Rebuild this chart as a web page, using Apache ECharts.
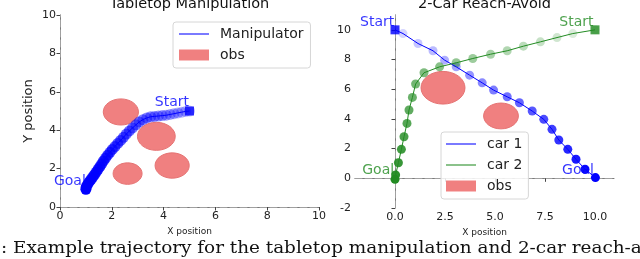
<!DOCTYPE html>
<html><head><meta charset="utf-8">
<script src="https://cdn.jsdelivr.net/npm/echarts@6/dist/echarts.min.js"></script>
<style>html,body{margin:0;padding:0;background:#fff}#c{width:640px;height:259px}</style>
</head><body><div id="c"></div>
<script>
// ---------- data ----------
const manipX = [5.0,4.85,4.7,4.55,4.4,4.25,4.1,3.95,3.8,3.65,3.5,3.35,3.2,3.06,2.93,2.8,2.68,2.56,2.45,2.34,2.23,2.12,2.02,1.93,1.84,1.76,1.68,1.61,1.54,1.47,1.4,1.33,1.26,1.19,1.12,1.06,1.01,1.0];
const manipY = [5.0,4.98,4.94,4.9,4.86,4.82,4.78,4.76,4.74,4.72,4.7,4.64,4.55,4.43,4.28,4.12,3.96,3.8,3.63,3.47,3.31,3.15,3.0,2.85,2.7,2.55,2.4,2.25,2.1,1.96,1.82,1.68,1.55,1.42,1.29,1.16,1.04,0.92];
const manipStart = [5, 5];
const tableObsX = [2.35, 3.72, 4.33, 2.61];
const tableObsY = [4.95, 3.68, 2.16, 1.74];
const tableObsR = [0.68, 0.73, 0.66, 0.56];

const car1X = [0,0.4,1.15,1.9,2.48,3.06,3.73,4.36,4.93,5.61,6.22,6.86,7.44,7.85,8.19,8.64,9.05,9.5,10.02];
const car1Y = [10,9.75,9.08,8.59,7.96,7.51,6.95,6.43,5.94,5.49,5.09,4.53,3.97,3.30,2.58,1.95,1.28,0.61,0.05];
const car2X = [10,8.89,8.1,7.27,6.42,5.61,4.78,3.89,3.06,2.23,1.45,1.03,0.87,0.7,0.6,0.45,0.32,0.17,0.03,0.0];
const car2Y = [10,9.75,9.48,9.19,8.9,8.59,8.36,8.07,7.78,7.51,7.11,6.35,5.45,4.6,3.7,2.8,1.95,1.05,0.22,-0.07];
const car1Start = [0, 10];
const car2Start = [10, 10];
const carObsX = [2.4, 5.3];
const carObsY = [6.1, 4.2];
const carObsR = [1.1, 0.87];

const leftTicks = [0, 2, 4, 6, 8, 10];
const rightXTicks = [0, 2.5, 5, 7.5, 10];
const rightYTicks = [-2, 0, 2, 4, 6, 8, 10];

const leftNotes = [{name:'Start', value:[4.32, 5.45]}, {name:'Goal', value:[0.38, 1.34]}];
const car1Notes = [{name:'Start', value:[-0.89, 10.49]}, {name:'Goal', value:[9.15, 0.51]}];
const car2Notes = [{name:'Start', value:[9.07, 10.49]}, {name:'Goal', value:[-0.84, 0.51]}];

const titles = ['Tabletop Manipulation', '2-Car Reach-Avoid'];
const caption = ': Example trajectory for the tabletop manipulation and 2-car reach-avoid';

// ---------- styles ----------
const BLUE = '#0000ff', GREEN = '#228b22', OBS = '#f08080', OBS_EDGE = '#e57373';
const FONT = 'DejaVu Sans';
const zip = (a, b) => a.map((v, i) => [v, b[i]]);
const fade = (arr, a0) => arr.map((p, i) => ({value: p, itemStyle: {opacity: a0 + (1 - a0) * i / (arr.length - 1)}}));

function obsSeries(xi, yi, xs, ys, rs) {
  return {
    type: 'custom', name: 'obs', xAxisIndex: xi, yAxisIndex: yi, z: 1,
    itemStyle: {color: OBS},
    dimensions: ['x', 'y', 'r'], encode: {x: 0, y: 1},
    data: xs.map((x, i) => [x, ys[i], rs[i]]),
    renderItem(params, api) {
      const c = api.coord([api.value(0), api.value(1)]);
      const s = api.size([api.value(2), api.value(2)]);
      return {type: 'ellipse', shape: {cx: c[0], cy: c[1], rx: s[0], ry: s[1]},
        style: {fill: OBS, stroke: OBS_EDGE, lineWidth: 1}};
    }
  };
}
function noteSeries(xi, yi, data, color) {
  return {type: 'scatter', xAxisIndex: xi, yAxisIndex: yi, symbolSize: 1, z: 6,
    itemStyle: {color: 'rgba(0,0,0,0)'}, data,
    label: {show: true, position: 'inside', formatter: '{b}', color, fontSize: 14, fontFamily: FONT}};
}
const tickLabel = {color: '#222', fontSize: 11, fontFamily: FONT, margin: 4};
const solidLine = {show: true, lineStyle: {color: '#7a7a7a', width: 1}};
const dashLine = {show: true, lineStyle: {color: '#a0a0a0', width: 1, type: [7, 3]}};
const tick = {show: true, length: 3.5, lineStyle: {color: '#444'}};

function mainX(gi, min, max, ticks, fmt) {
  return {type: 'value', gridIndex: gi, min, max, position: 'bottom',
    axisLine: solidLine, splitLine: {show: false},
    axisTick: Object.assign({customValues: ticks}, tick),
    axisLabel: Object.assign({customValues: ticks, formatter: fmt}, tickLabel),
    name: 'X position', nameLocation: 'middle', nameGap: 20,
    nameTextStyle: {fontSize: 9, color: '#222', fontFamily: FONT}};
}
function mainY(gi, min, max, ticks, name) {
  return {type: 'value', gridIndex: gi, min, max, position: 'left',
    axisLine: solidLine, splitLine: {show: false},
    axisTick: Object.assign({customValues: ticks}, tick),
    axisLabel: Object.assign({customValues: ticks}, tickLabel),
    name, nameLocation: 'middle', nameGap: 25, nameRotate: 90,
    nameTextStyle: {fontSize: 13, color: '#222', fontFamily: FONT}};
}
function borderX(gi, min, max) {
  return {type: 'value', gridIndex: gi, min, max, position: 'top', axisLine: dashLine,
    axisTick: {show: false}, axisLabel: {show: false}, splitLine: {show: false}};
}
function borderY(gi, min, max) {
  return {type: 'value', gridIndex: gi, min, max, position: 'right', axisLine: dashLine,
    axisTick: {show: false}, axisLabel: {show: false}, splitLine: {show: false}};
}
const legendBase = {orient: 'vertical', selectedMode: false, borderColor: '#d6d6d6', borderWidth: 1,
  borderRadius: 3, backgroundColor: 'rgba(255,255,255,0.85)', itemWidth: 30, itemHeight: 11, itemGap: 7,
  textStyle: {fontSize: 14, color: '#222', fontFamily: FONT, padding: [0, 0, 0, 6]}};
const lineIcon = 'path://M0,0H40V1.4H0Z';

const chart = echarts.init(document.getElementById('c'), null, {renderer: 'canvas'});
chart.setOption({
  animation: false,
  grid: [
    {left: 60, top: 15, width: 259, height: 192},
    {left: 355, top: 15, width: 259, height: 193}
  ],
  xAxis: [
    mainX(0, 0, 10, leftTicks, v => String(v)),
    mainX(1, -2, 10.95, rightXTicks, v => v.toFixed(1)),
    borderX(0, 0, 10), borderX(1, -2, 10.95)
  ],
  yAxis: [
    mainY(0, 0, 10, leftTicks, 'Y position'),
    mainY(1, -2, 11, rightYTicks, ''),
    borderY(0, 0, 10), borderY(1, -2, 11)
  ],
  legend: [
    Object.assign({}, legendBase, {left: 173, top: 22, padding: [5, 7, 6, 6],
      data: [{name: 'Manipulator', icon: lineIcon}, {name: 'obs', icon: 'rect'}]}),
    Object.assign({}, legendBase, {left: 441, top: 132, padding: [5, 6, 6, 5],
      data: [{name: 'car 1', icon: lineIcon}, {name: 'car 2', icon: lineIcon}, {name: 'obs', icon: 'rect'}]})
  ],
  graphic: [
    {type: 'text', x: 189.5, y: 4.5, style: {text: titles[0], fontSize: 14.5, fontFamily: FONT, fill: '#111', align: 'center', verticalAlign: 'middle'}},
    {type: 'text', x: 484.5, y: 4.5, style: {text: titles[1], fontSize: 14.5, fontFamily: FONT, fill: '#111', align: 'center', verticalAlign: 'middle'}},
    {type: 'text', x: 1, y: 249, scaleX: 1.15, style: {text: caption, fontSize: 16, fontFamily: 'DejaVu Serif', fill: '#111', align: 'left', verticalAlign: 'middle'}}
  ],
  series: [
    obsSeries(0, 0, tableObsX, tableObsY, tableObsR),
    {type: 'scatter', name: 'manip-pts', xAxisIndex: 0, yAxisIndex: 0, symbolSize: 11, z: 3,
      itemStyle: {color: BLUE}, data: fade(zip(manipX, manipY), 0.25)},
    {type: 'line', name: 'Manipulator', xAxisIndex: 0, yAxisIndex: 0, color: BLUE, symbol: 'none', z: 4,
      lineStyle: {color: BLUE, width: 1}, data: zip(manipX, manipY)},
    {type: 'scatter', name: 'manip-start', xAxisIndex: 0, yAxisIndex: 0, symbol: 'rect', symbolSize: 9, z: 5,
      itemStyle: {color: BLUE}, data: [manipStart]},
    noteSeries(0, 0, leftNotes, BLUE),

    obsSeries(1, 1, carObsX, carObsY, carObsR),
    {type: 'scatter', name: 'car1-pts', xAxisIndex: 1, yAxisIndex: 1, symbolSize: 9, z: 3,
      itemStyle: {color: BLUE}, data: fade(zip(car1X, car1Y), 0.12)},
    {type: 'scatter', name: 'car2-pts', xAxisIndex: 1, yAxisIndex: 1, symbolSize: 9, z: 3,
      itemStyle: {color: GREEN}, data: fade(zip(car2X, car2Y), 0.12)},
    {type: 'line', name: 'car 1', xAxisIndex: 1, yAxisIndex: 1, color: BLUE, symbol: 'none', z: 4,
      lineStyle: {color: BLUE, width: 1}, data: zip(car1X, car1Y)},
    {type: 'line', name: 'car 2', xAxisIndex: 1, yAxisIndex: 1, color: GREEN, symbol: 'none', z: 4,
      lineStyle: {color: GREEN, width: 1}, data: zip(car2X, car2Y)},
    {type: 'scatter', name: 'starts', xAxisIndex: 1, yAxisIndex: 1, symbol: 'rect', symbolSize: 9, z: 5,
      data: [{value: car1Start, itemStyle: {color: BLUE}}, {value: car2Start, itemStyle: {color: GREEN}}]},
    noteSeries(1, 1, car1Notes, BLUE),
    noteSeries(1, 1, car2Notes, GREEN)
  ]
});
</script></body></html>
